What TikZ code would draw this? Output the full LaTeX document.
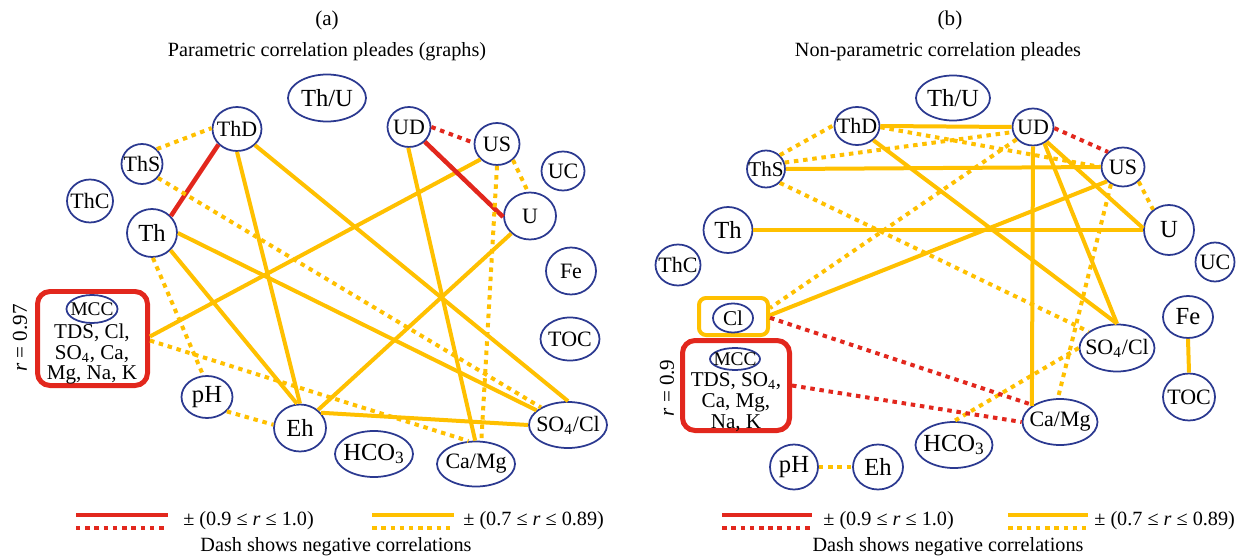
\documentclass[tikz,border=0pt]{standalone}
\usepackage{fontspec}
\setmainfont{Liberation Serif}
\usetikzlibrary{shapes.geometric}
\definecolor{gold}{HTML}{FFC000}
\definecolor{rd}{HTML}{E2271D}
\definecolor{navy}{HTML}{2B3990}
\newcommand\zlab[1]{\makebox[0pt]{#1}}
\tikzset{
 ov/.style 2 args={draw=navy, line width=1pt, ellipse, inner sep=0pt,
   minimum width=#1*0.02cm, minimum height=#2*0.02cm, font=\fontsize{12.5}{13}\selectfont},
 big/.style={font=\fontsize{14}{15}\selectfont},
 sml/.style={font=\fontsize{11}{12}\selectfont},
 ysol/.style={draw=gold, line width=0.08cm},
 ydot/.style={draw=gold, line width=0.08cm, dash pattern=on 0.09cm off 0.095cm},
 rsol/.style={draw=rd, line width=0.09cm},
 rdot/.style={draw=rd, line width=0.08cm, dash pattern=on 0.09cm off 0.095cm},
 redbox/.style={draw=rd, line width=0.1cm, rounded corners=0.25cm, inner sep=0pt},
 goldbox/.style={draw=gold, line width=0.08cm, rounded corners=0.14cm, inner sep=0pt},
 txt/.style={font=\fontsize{11.5}{13}\selectfont, inner sep=0pt},
 box text/.style={font=\fontsize{12}{11.9}\selectfont, align=center, inner sep=0pt},
}
\begin{document}
\begin{tikzpicture}[x=0.02cm, y=-0.02cm]
\useasboundingbox (0,0) rectangle (1244,557);
% ---------- titles ----------
\node[txt, font=\fontsize{12}{13}\selectfont] (labA) at (327,20) {(a)};
\node[txt] (titA) at (327,52) {Parametric correlation pleades (graphs)};
\node[txt, font=\fontsize{12}{13}\selectfont] (labB) at (950,20) {(b)};
\node[txt] (titB) at (938,52) {Non-parametric correlation pleades};

% ---------- panel (a) nodes ----------
\node[ov={78}{47}, big] (thuA) at (327,98) {\zlab{Th/U}};
\node[ov={49}{44}] (thdA) at (237,129) {\zlab{ThD}};
\node[ov={41}{40}] (thsA) at (142,164) {\zlab{ThS}};
\node[ov={46}{43}] (thcA) at (90,201) {\zlab{ThC}};
\node[ov={50}{48}, big] (thA) at (152,233) {\zlab{Th}};
\node[ov={43}{40}] (udA) at (409,127) {\zlab{UD}};
\node[ov={45}{42}] (usA) at (497,144) {\zlab{US}};
\node[ov={43}{39}] (ucA) at (563,171) {\zlab{UC}};
\node[ov={52}{47}] (uA) at (530,216) {\zlab{U}};
\node[ov={50}{47}] (feA) at (571,271) {\zlab{Fe}};
\node[ov={59}{43}] (tocA) at (570,339) {\zlab{TOC}};
\node[ov={51}{42}, big] (phA) at (207,397) {\zlab{pH}};
\node[ov={52}{47}, big] (ehA) at (300,428) {\zlab{Eh}};
\node[ov={78}{46}, big] (hcoA) at (374,454) {\zlab{HCO\textsubscript{3}}};
\node[ov={78}{45}] (camgA) at (476,464) {\zlab{Ca/Mg}};
\node[ov={78}{46}] (so4A) at (568,425) {\zlab{SO\textsubscript{4}/Cl}};
\node[redbox, minimum width=110*0.02cm, minimum height=94*0.02cm] (mccA) at (92.5,338.5) {};
\node[ov={51}{28}, sml] (mccAe) at (92,309) {\zlab{MCC}};
\node[box text] (mccAt) at (92,354) {TDS, Cl,\\SO\textsubscript{4}, Ca,\\Mg, Na, K};
\node[txt, font=\fontsize{12}{13}\selectfont, rotate=90] (rA) at (20,338) {\textit{r} = 0.97};

% ---------- panel (a) edges ----------
\draw[ydot] (thsA.45) -- (thdA.178);
\draw[rsol] (thdA.220) -- (thA.42);
\draw[ydot] (thsA.-41) -- (so4A.147);
\draw[ydot] (thA.-88) -- (phA.100);
\draw[ysol] (thA.-43) -- (ehA.97);
\draw[ysol] (thA.0) -- (so4A.155);
\draw[ysol] (thdA.-90) -- (ehA.90);
\draw[ysol] (thdA.-42) -- (so4A.90);
\draw[ysol] (mccA.2) -- (usA.223);
\draw[ydot] (mccA.-2) -- (camgA.108);
\draw[ydot] (phA.-36) -- (ehA.173);
\draw[rdot] (udA.0) -- (usA.177);
\draw[rsol] (udA.-43) -- (uA.182);
\draw[ysol] (udA.-92) -- (camgA.92);
\draw[ydot] (usA.-45) -- (uA.95);
\draw[ydot] (usA.-90) -- (camgA.77);
\draw[ysol] (uA.223) -- (ehA.45);
\draw[ysol] (ehA.36) -- (so4A.180);

% ---------- panel (a) legend ----------
\coordinate (la1) at (76,515); \coordinate (la2) at (168,515);
\coordinate (la3) at (76,528); \coordinate (la4) at (168,528);
\coordinate (la5) at (372,515); \coordinate (la6) at (454,515);
\coordinate (la7) at (372,528); \coordinate (la8) at (454,528);
\draw[rsol] (la1) -- (la2);
\draw[rdot] (la3) -- (la4);
\draw[ysol] (la5) -- (la6);
\draw[ydot] (la7) -- (la8);
\node[txt, anchor=west] (lgA1) at (183,521) {± (0.9 ≤ \textit{r} ≤ 1.0)};
\node[txt, anchor=west] (lgA2) at (463,521) {± (0.7 ≤ \textit{r} ≤ 0.89)};
\node[txt, anchor=base] (dashA) at (336,551) {Dash shows negative correlations};

% ---------- panel (b) nodes ----------
\node[ov={74}{45}, big] (thuB) at (953,98) {\zlab{Th/U}};
\node[ov={45}{38}] (thdB) at (857,126) {\zlab{ThD}};
\node[ov={38}{37}, font=\fontsize{12}{13}\selectfont] (thsB) at (766,169) {\zlab{ThS}};
\node[ov={49}{46}, big] (thB) at (728,230) {\zlab{Th}};
\node[ov={45}{41}] (thcB) at (678,265) {\zlab{ThC}};
\node[ov={41}{37}] (udB) at (1033,127) {\zlab{UD}};
\node[ov={43}{39}] (usB) at (1123,167) {\zlab{US}};
\node[ov={50}{50}, big] (uB) at (1169,230) {\zlab{U}};
\node[ov={39}{39}] (ucB) at (1215,262) {\zlab{UC}};
\node[ov={50}{42}, big] (feB) at (1188,317) {\zlab{Fe}};
\node[ov={52}{47}] (tocB) at (1189,397) {\zlab{TOC}};
\node[ov={75}{47}] (so4B) at (1117,348) {\zlab{SO\textsubscript{4}/Cl}};
\node[ov={75}{46}] (camgB) at (1060,422) {\zlab{Ca/Mg}};
\node[ov={77}{46}, big] (hcoB) at (954,445) {\zlab{HCO\textsubscript{3}}};
\node[ov={48}{45}, big] (phB) at (794,467) {\zlab{pH}};
\node[ov={50}{45}, big] (ehB) at (878,467) {\zlab{Eh}};
\node[goldbox, minimum width=69*0.02cm, minimum height=37*0.02cm] (clB) at (733.5,316.5) {};
\node[ov={40}{29}, font=\fontsize{12}{13}\selectfont] (clBe) at (733,318) {\zlab{Cl}};
\node[redbox, minimum width=107*0.02cm, minimum height=90*0.02cm] (mccB) at (736,385.5) {};
\node[ov={50}{22}, sml] (mccBe) at (735,359) {\zlab{MCC}};
\node[box text] (mccBt) at (736,402) {TDS, SO\textsubscript{4},\\Ca, Mg,\\Na, K};
\node[txt, font=\fontsize{12}{13}\selectfont, rotate=90] (rB) at (667,388) {\textit{r} = 0.9};

% ---------- panel (b) edges ----------
\draw[ydot] (thsB.45) -- (thdB.178);
\draw[ysol] (thdB.0) -- (udB.180);
\draw[ydot] (thdB.-3) -- (usB.180);
\draw[ysol] (thdB.-41) -- (so4B.90);
\draw[ydot] (thsB.19) -- (udB.194);
\draw[ysol] (thsB.0) -- (usB.180);
\draw[ydot] (thsB.-45) -- (so4B.150);
\draw[ysol] (thB.0) -- (uB.180);
\draw[rdot] (udB.-3) -- (usB.135);
\draw[ysol] (udB.-47) -- (uB.176);
\draw[ysol] (udB.-55) -- (so4B.90);
\draw[ysol] (udB.-90) -- (camgB.150);
\draw[ydot] (udB.217) -- (clB.13);
\draw[ydot] (usB.-43) -- (uB.128);
\draw[ysol] (usB.222) -- (clB.2);
\draw[ydot] (usB.235) -- (camgB.95);
\draw[ydot] (so4B.180) -- (hcoB.90);
\draw[rdot] (clB.-2) -- (camgB.148);
\draw[rdot] (mccB.east) -- (camgB.180);
\draw[ysol] (feB.south) -- (tocB.north);
\draw[ydot] (phB.east) -- (ehB.west);

% ---------- panel (b) legend ----------
\coordinate (lb1) at (722,515); \coordinate (lb2) at (812,515);
\coordinate (lb3) at (722,528); \coordinate (lb4) at (812,528);
\coordinate (lb5) at (1008,515); \coordinate (lb6) at (1088,515);
\coordinate (lb7) at (1008,528); \coordinate (lb8) at (1088,528);
\draw[rsol] (lb1) -- (lb2);
\draw[rdot] (lb3) -- (lb4);
\draw[ysol] (lb5) -- (lb6);
\draw[ydot] (lb7) -- (lb8);
\node[txt, anchor=west] (lgB1) at (823,521) {± (0.9 ≤ \textit{r} ≤ 1.0)};
\node[txt, anchor=west] (lgB2) at (1094,521) {± (0.7 ≤ \textit{r} ≤ 0.89)};
\node[txt, anchor=base] (dashB) at (948,551) {Dash shows negative correlations};
\end{tikzpicture}
\end{document}
